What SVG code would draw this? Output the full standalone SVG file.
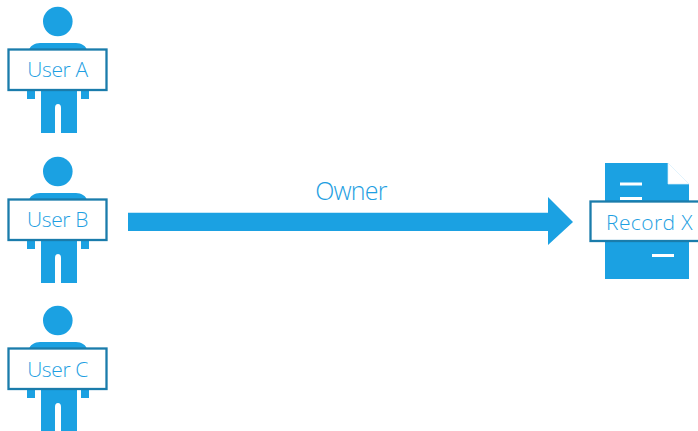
<svg xmlns="http://www.w3.org/2000/svg" width="698" height="431" viewBox="0 0 698 431">
<style>
.b{fill:#1ba1e2}
.box{fill:#fff;stroke:#1a7cab;stroke-width:2.3}
.t{font-family:"Open Sans","Noto Sans",sans-serif;font-weight:300;fill:#1f9fe2;text-anchor:middle;font-size:21px;letter-spacing:-.4px}
</style>
<defs>
<g id="person">
<circle class="b" cx="57.800" cy="21.500" r="14.800"/>
<path class="b" d="M29 50V51C29 46 35 43 40 43H76C81 43 87 46 87 51V50ZM27 88H35V99H27ZM81 88H89V99H81ZM41 88H77V133H61V108Q61 104 58 104Q55 104 55 108V133H41Z"/>
<rect class="box" x="8.500" y="49.500" width="98" height="40.500"/>
</g>
</defs>
<g id="connectors">
<path class="b" d="M128 212.700H548V197L573 222L548 245V231H128Z"/>
<text class="t" x="351" y="199.500" style="font-size:25px;letter-spacing:-.8px">Owner</text>
</g>
<g id="user-a"><use href="#person"/><text class="t" x="57.500" y="77">User A</text></g>
<g id="user-b"><use href="#person" y="150"/><text class="t" x="57.500" y="227">User B</text></g>
<g id="user-c"><use href="#person" y="299"/><text class="t" x="57.500" y="376.500">User C</text></g>
<g id="record-x">
<path class="b" d="M605 163H668V184H689V279H605Z"/>
<path d="M668 163L689 184H668Z" fill="#fff" stroke="#d5eefa" stroke-width="0.7"/>
<path d="M620 182.500H642V185.500H620ZM620 197H642V200H620ZM652 254H674V257H652Z" fill="#fff"/>
<rect class="box" x="590.500" y="201.500" width="109" height="39.500"/>
<text class="t" x="649.500" y="229.500" style="letter-spacing:.4px">Record X</text>
</g>
</svg>
